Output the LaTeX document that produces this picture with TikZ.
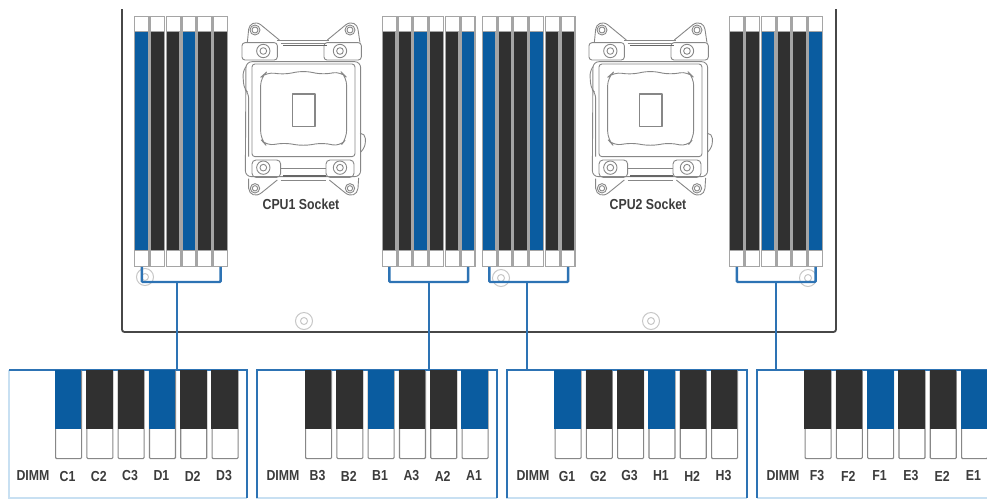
\documentclass[tikz,border=0pt]{standalone}
\usepackage{fontspec}
\setmainfont{Liberation Sans}[FakeStretch=0.85]
\definecolor{bl}{RGB}{10,92,160}
\definecolor{dk}{RGB}{48,48,48}
\definecolor{lnk}{RGB}{45,115,180}
\definecolor{pale}{RGB}{200,224,242}
\definecolor{edge}{RGB}{165,165,165}
\definecolor{sock}{RGB}{135,135,135}
\definecolor{txt}{RGB}{60,60,60}
\tikzset{
  topbg/.style={draw=edge,line width=1.4pt,fill=white,inner sep=0,minimum width=14.2pt,minimum height=250pt,anchor=north west},
  topbar/.style={fill=#1,draw=edge,line width=.8pt,inner sep=0,minimum width=13.6pt,minimum height=219pt,anchor=north west},
  lowbg/.style={draw=sock,line width=1.1pt,rounded corners=1pt,fill=white,inner sep=0,minimum width=26pt,minimum height=88pt,anchor=north west},
  lowbar/.style={fill=#1,inner sep=0,minimum width=26.5pt,minimum height=59pt,anchor=north west},
  lab/.style={font=\bfseries\fontsize{14.5}{15}\selectfont,text=txt,inner sep=0},
  link/.style={draw=lnk,line width=2.4pt},
  standoff/.style={draw=black!22,line width=1pt},
  sk/.style={draw=sock,line width=.9pt,line join=round},
  skd/.style={draw=black!60,line width=1.5pt}
}
\newcommand{\standoffat}[2]{\draw[standoff] (#1,#2) circle (8.5) (#1,#2) circle (3.5);}
\begin{document}
\begin{tikzpicture}[x=1pt,y=-1pt]
\useasboundingbox (0,0) rectangle (987,499);
% board
\coordinate (bl-t) at (122,9);
\coordinate (bl-c) at (122,332);
\coordinate (br-c) at (836,332);
\coordinate (br-t) at (836,9);
\draw[draw=black!72,line width=1.8pt,rounded corners=2.5pt] (bl-t) -- (bl-c) -- (br-c) -- (br-t);
\standoffat{145}{277}
\standoffat{304}{321}
\standoffat{501}{278}
\standoffat{651}{321}
\standoffat{808}{278}
% top DIMM slots
\foreach \g/\gx/\cols in {1/134/{bl,dk,dk,bl,dk,dk},2/381.5/{dk,dk,bl,dk,dk,bl},3/481.5/{bl,dk,dk,bl,dk,dk},4/729/{dk,dk,bl,dk,dk,bl}}{
  \foreach \c [count=\i] in \cols {
    \pgfmathsetmacro{\sx}{\gx+(\i-1)*15.75}
    \node[topbg] (t\g-\i) at (\sx,15.5) {};
    \node[topbar=\c] (tb\g-\i) at (\sx+0.3,31) {};
  }
}
% sockets
\foreach \dx/\nm in {120/1,467/2}{
\begin{scope}[xshift=\dx pt,x=0.3333pt,y=-0.3333pt]
  \draw[sk] (382,128) -- (386,88) .. controls (388,72) and (405,62) .. (422,74) -- (478,120);
  \draw[sk] (622,120) -- (678,74) .. controls (695,62) and (712,72) .. (714,88) -- (720,128);
  \draw[sk] (405,90) circle (15) (405,90) circle (9);
  \draw[sk] (690,90) circle (15) (690,90) circle (9);
  \draw[sk,rounded corners=3pt] (366,128) rectangle (472,180);
  \draw[sk,rounded corners=3pt] (612,128) rectangle (724,180);
  \draw[sk] (472,120) -- (628,120) (482,130) -- (618,130);
  \draw[skd] (490,136) -- (620,136);
  \draw[sk] (430,153) circle (20) (430,153) circle (10);
  \draw[sk] (660,153) circle (20) (660,153) circle (10);
  \draw[sk,rounded corners=6pt] (378,185) -- (722,185) -- (722,530) -- (376,530) -- cycle;
  \draw[sk,rounded corners=3pt] (396,192) rectangle (705,470);
  \draw[sk,rounded corners=4pt] (396,480) rectangle (482,532);
  \draw[sk,rounded corners=4pt] (618,480) rectangle (702,532);
  \draw[sk] (482,505) -- (618,505) (482,540) -- (618,540);
  \draw[skd] (490,528) -- (618,528);
  \draw[sk] (430,503) circle (20) (430,503) circle (10);
  \draw[sk] (660,503) circle (20) (660,503) circle (10);
  \draw[sk] (386,536) -- (386,565) .. controls (388,585) and (408,592) .. (425,578) -- (472,540);
  \draw[sk] (628,540) -- (675,578) .. controls (692,592) and (712,585) .. (714,565) -- (716,534);
  \draw[sk] (405,565) circle (14) (405,565) circle (8);
  \draw[sk] (690,565) circle (14) (690,565) circle (8);
  \draw[sk,rounded corners=5pt] (722,400) -- (736,400) -- (736,442) -- (722,456);
  \draw[sk,rounded corners=5pt] (378,200) -- (368,215) -- (372,265) -- (386,280) -- (386,470);
  \draw[sk,rounded corners=8pt] (422,232) -- (440,216) -- (490,224) -- (550,212) -- (610,224) -- (662,214) -- (680,232) -- (680,415) -- (660,440) -- (610,428) -- (550,438) -- (490,428) -- (440,438) -- (422,418) -- cycle;
  \draw[sk,line width=1.1pt] (517,282) rectangle (585,380);
  \node[lab] (cap\nm) at (543,612) {CPU\nm\ Socket};
\end{scope}
}
% bottom panels
\foreach \p/\l/\r in {1/9/247,2/257/497,3/507/747}{
  \coordinate (p\p-nw) at (\l,370);
  \coordinate (p\p-ne) at (\r,370);
  \coordinate (p\p-sw) at (\l,498);
  \coordinate (p\p-se) at (\r,498);
  \draw[draw=pale,line width=1.4pt] (p\p-nw) -- (p\p-sw) -- (p\p-se);
}
\draw[link] (p1-nw) -- (p1-ne) -- (p1-se);
\draw[link] (p2-sw) -- (p2-nw) -- (p2-ne) -- (p2-se);
\draw[link] (p3-sw) -- (p3-nw) -- (p3-ne) -- (p3-se);
\coordinate (p4-sw) at (757,498);
\coordinate (p4-nw) at (757,370);
\coordinate (p4-ne) at (987,370);
\coordinate (p4-se) at (987,498);
\draw[draw=pale,line width=1.4pt] (p4-sw) -- (p4-se);
\draw[link] (p4-sw) -- (p4-nw) -- (p4-ne);
% bottom slots and labels
\foreach \g/\gx/\dimmx/\labs/\cols in {
  1/55/33/{C1,C2,C3,D1,D2,D3}/{bl,dk,dk,bl,dk,dk},
  2/305/283/{B3,B2,B1,A3,A2,A1}/{dk,dk,bl,dk,dk,bl},
  3/554.5/533/{G1,G2,G3,H1,H2,H3}/{bl,dk,dk,bl,dk,dk},
  4/804.5/783/{F3,F2,F1,E3,E2,E1}/{dk,dk,bl,dk,dk,bl}}{
  \node[lab] (dimm\g) at (\dimmx,476) {DIMM};
  \foreach \c [count=\i] in \cols {
    \pgfmathsetmacro{\sx}{\gx+(\i-1)*31.3}
    \node[lowbg] (s\g-\i) at (\sx,370) {};
    \node[lowbar=\c] (sb\g-\i) at (\sx-0.25,370) {};
  }
  \foreach \t [count=\i] in \labs {
    \pgfmathsetmacro{\sx}{\gx+(\i-1)*31.3+12.5}
    \node[lab] (n\g-\i) at (\sx,476) {\t};
  }
}
% connectors
\foreach \g/\jx in {1/177,2/429,3/527,4/776}{
  \coordinate (j\g) at (\jx,282);
  \coordinate (e\g) at (\jx,370);
  \draw[link,rounded corners=1pt] (t\g-1.south) |- (j\g) -| (t\g-6.south);
  \draw[link] (j\g) -- (e\g);
}
\end{tikzpicture}
\end{document}
